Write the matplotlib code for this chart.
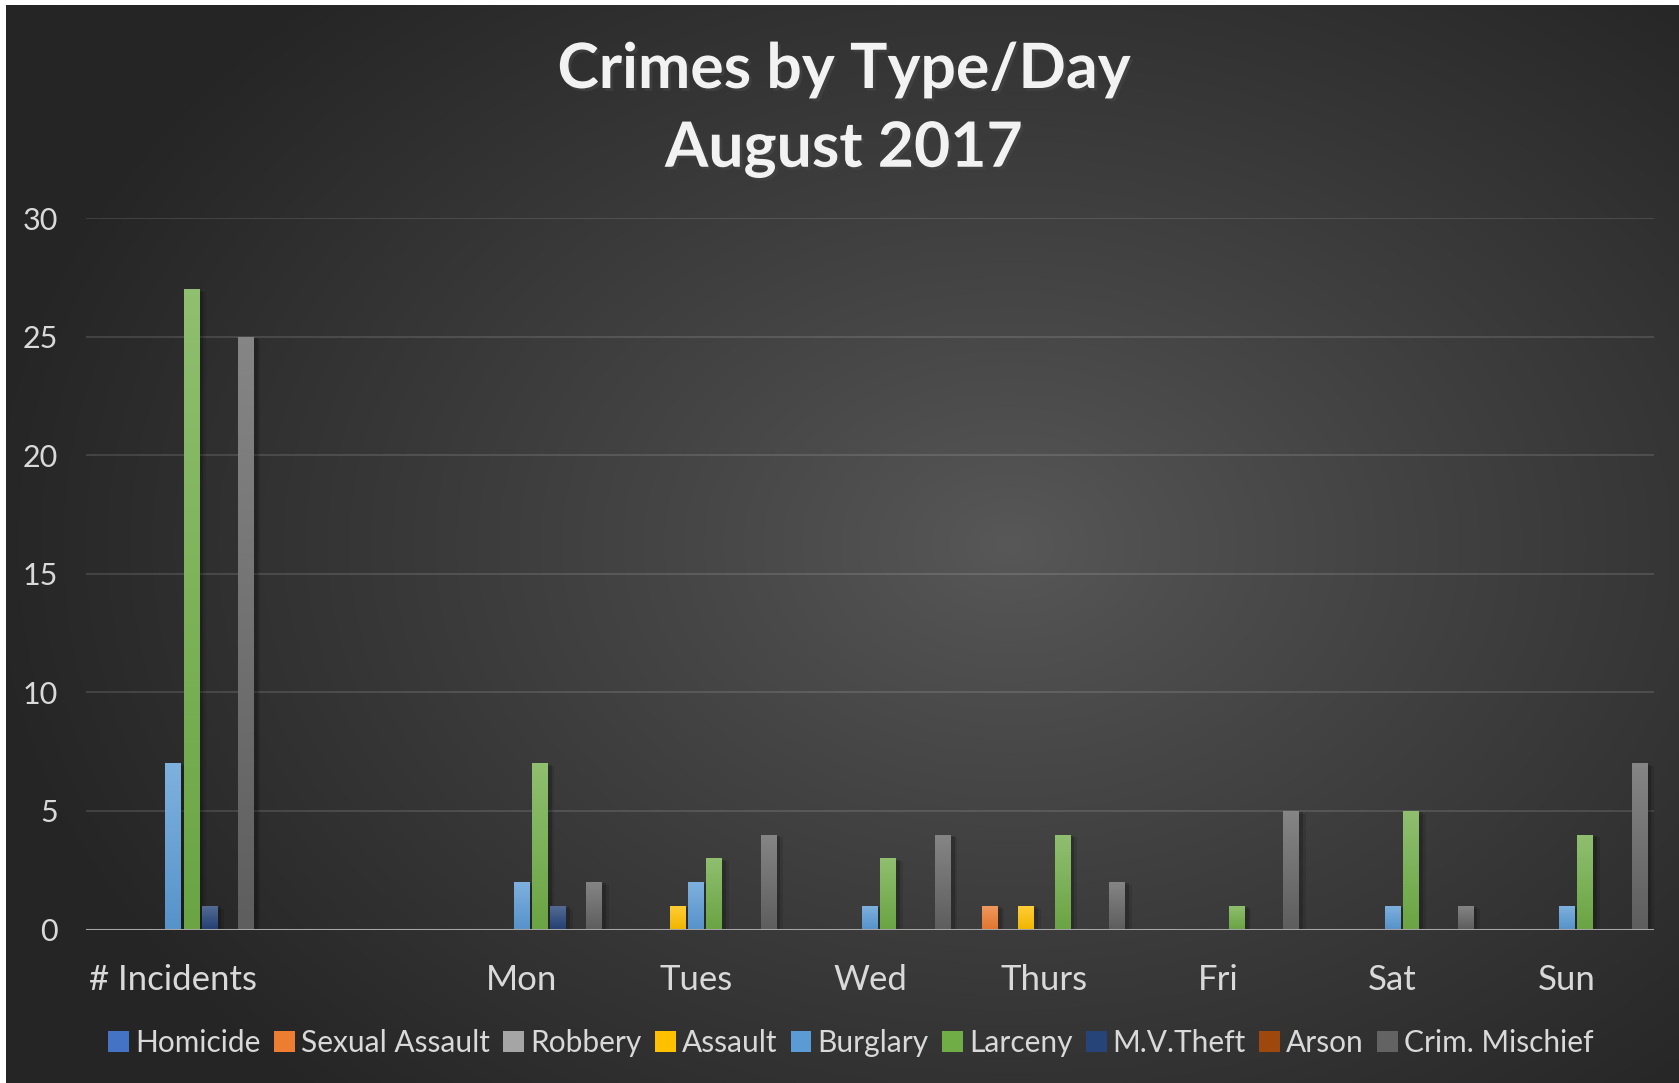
import numpy as np
import matplotlib
matplotlib.use("Agg")
import matplotlib.pyplot as plt
from matplotlib.patches import Patch
from matplotlib import patheffects as pe
from matplotlib.colors import to_rgb

plt.rcParams['font.family'] = ['Lato', 'DejaVu Sans']

categories = ["# Incidents", "", "Mon", "Tues", "Wed", "Thurs", "Fri", "Sat", "Sun"]
series_names = ["Homicide", "Sexual Assault", "Robbery", "Assault", "Burglary",
                "Larceny", "M.V.Theft", "Arson", "Crim. Mischief"]
homicide       = [0, 0, 0, 0, 0, 0, 0, 0, 0]
sexual_assault = [0, 0, 0, 0, 0, 1, 0, 0, 0]
robbery        = [0, 0, 0, 0, 0, 0, 0, 0, 0]
assault        = [0, 0, 0, 1, 0, 1, 0, 0, 0]
burglary       = [7, 0, 2, 2, 1, 0, 0, 1, 1]
larceny        = [27, 0, 7, 3, 3, 4, 1, 5, 4]
mv_theft       = [1, 0, 1, 0, 0, 0, 0, 0, 0]
arson          = [0, 0, 0, 0, 0, 0, 0, 0, 0]
crim_mischief  = [25, 0, 2, 4, 4, 2, 5, 1, 7]
series_values = [homicide, sexual_assault, robbery, assault, burglary,
                 larceny, mv_theft, arson, crim_mischief]
colors = ["#4472C4", "#ED7D31", "#A5A5A5", "#FFC000", "#5B9BD5",
          "#70AD47", "#264478", "#9E480E", "#636363"]
y_ticks = [0, 5, 10, 15, 20, 25, 30]
title_lines = ["Crimes by Type/Day", "August 2017"]

W, H = 1679, 1083
fig = plt.figure(figsize=(W / 100, H / 100), dpi=100)
fig.patch.set_facecolor("white")

# background radial gradient
bg = fig.add_axes([0, 0, 1, 1], zorder=-10)
bg.set_xlim(0, W)
bg.set_ylim(H, 0)
bg.axis("off")
yy, xx = np.mgrid[0:H, 0:W]
cx, cy = 0.60 * W, 0.50 * H
r = np.sqrt(((xx - cx) / (0.62 * W)) ** 2 + ((yy - cy) / (0.70 * H)) ** 2)
r = np.clip(r, 0, 1)
c_in, c_out = 0x58 / 255, 0x25 / 255
val = c_in + (c_out - c_in) * r ** 0.9
img = np.dstack([val, val, val])
bg.imshow(img, extent=[6, W, H, 5], aspect="auto", interpolation="bilinear")

# main axes
left, right = 86 / W, 1654 / W
bottom, top = (H - 929.5) / H, (H - 218) / H
ax = fig.add_axes([left, bottom, right - left, top - bottom])
ax.set_facecolor("none")
for s in ax.spines.values():
    s.set_visible(False)

n = len(series_names)
slot = 0.1043
bw = 0.089
x = np.arange(len(categories))

def lighten(c, f):
    c = np.array(to_rgb(c))
    return c + (1 - c) * f

for i, (name, vals, col) in enumerate(zip(series_names, series_values, colors)):
    offs = (i - (n - 1) / 2) * slot
    bars = ax.bar(x + offs, vals, width=bw, color=col, zorder=3, label=name,
                  path_effects=[pe.SimplePatchShadow(offset=(3, -1), shadow_rgbFace="black", alpha=0.18),
                                pe.SimplePatchShadow(offset=(5, -2), shadow_rgbFace="black", alpha=0.10)])
    top_c = lighten(col, 0.22)
    bot_c = np.array(to_rgb(col)) * 0.95
    grad = np.linspace(0, 1, 64)[:, None, None]
    gimg = top_c[None, None, :] * (1 - grad) + bot_c[None, None, :] * grad
    for b, v in zip(bars, vals):
        if v > 0:
            x0 = b.get_x()
            im = ax.imshow(gimg, extent=[x0, x0 + b.get_width(), 0, v],
                           aspect="auto", zorder=4, interpolation="bilinear")
            im.set_clip_path(b)

ax.set_xlim(-0.5, len(categories) - 0.5)
ax.set_ylim(0, 30)
ax.set_aspect("auto")
ax.set_yticks(y_ticks)
ax.set_yticklabels([str(t) for t in y_ticks])
ax.set_xticks(x)
ax.set_xticklabels(categories)
ax.tick_params(axis="y", length=0, pad=20, labelsize=22, labelcolor="#d9d9d9")
ax.tick_params(axis="x", length=0, pad=25, labelsize=25, labelcolor="#d9d9d9")
ax.grid(axis="y", color="white", alpha=0.12, linewidth=1.5, zorder=0)
ax.set_axisbelow(True)
ax.axhline(0, color="#a6a6a6", linewidth=2.2, zorder=5)

# title
for txt, yp in zip(title_lines, [70, 150]):
    fig.text(844 / W, 1 - yp / H, txt, ha="center", va="center", fontsize=45,
             fontweight="bold", color="#f2f2f2",
             path_effects=[pe.withSimplePatchShadow(offset=(2, -2), alpha=0.5)])

handles = [Patch(facecolor=c, label=nm) for nm, c in zip(series_names, colors)]
fig.legend(handles=handles, loc="center", bbox_to_anchor=(851 / W, 40 / H),
           ncol=n, frameon=False, fontsize=21.5, labelcolor="#d9d9d9",
           handlelength=0.7, handleheight=0.7, handletextpad=0.2, columnspacing=0.45)

fig.savefig("out.png", dpi=100, facecolor=fig.get_facecolor())
